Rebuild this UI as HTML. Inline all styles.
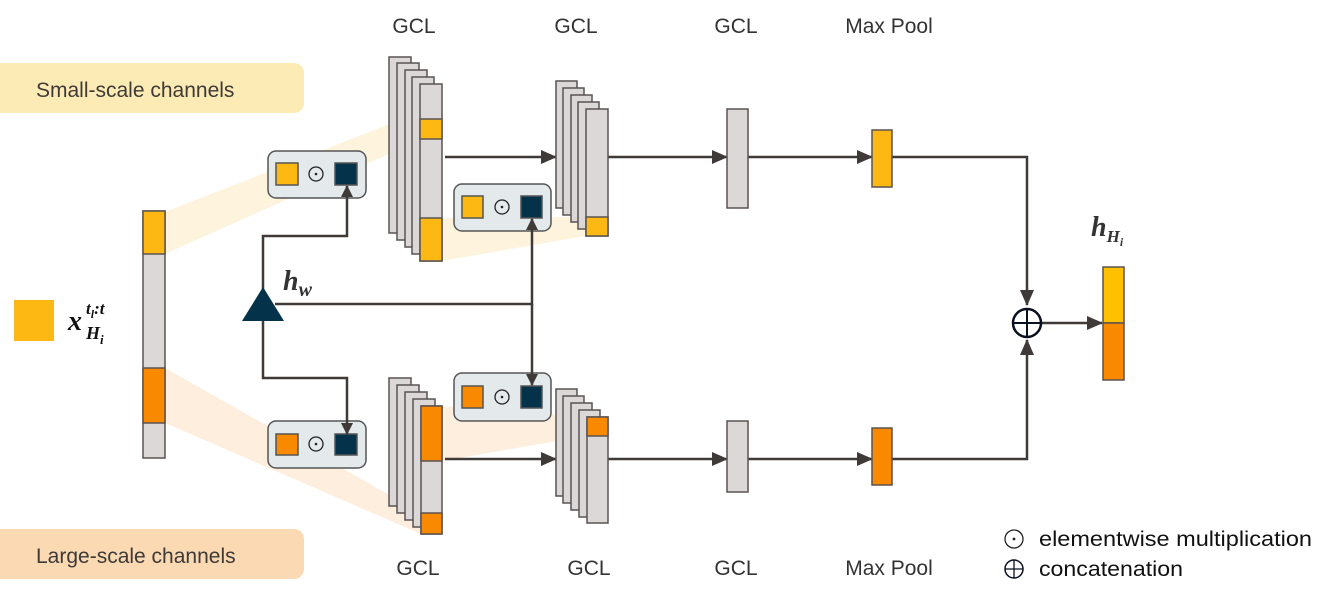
<!DOCTYPE html>
<html><head><meta charset="utf-8"><style>
html,body{margin:0;padding:0;background:#fff;}
svg{display:block;}
.s{font-family:"Liberation Sans",sans-serif;}
.m{font-family:"Liberation Serif",serif;font-weight:bold;font-style:italic;}
</style></head><body>
<svg width="1329" height="600" viewBox="0 0 1329 600" xmlns="http://www.w3.org/2000/svg">
<defs>
<marker id="ah" markerWidth="12" markerHeight="12" refX="11" refY="6" orient="auto" markerUnits="userSpaceOnUse">
<path d="M0,0 L12,6 L0,12 z" fill="#3f3a38"/>
</marker>
<marker id="ah2" markerWidth="16" markerHeight="14" refX="15" refY="7" orient="auto" markerUnits="userSpaceOnUse">
<path d="M0,0 L16,7 L0,14 z" fill="#3f3a38"/>
</marker>
</defs>
<!-- pills -->
<rect x="-10" y="63" width="314" height="50" rx="10" fill="#fdebb6"/>
<text class="s" x="36" y="97" font-size="21" fill="#3d3a38">Small-scale channels</text>
<rect x="-10" y="529" width="314" height="50" rx="10" fill="#fbd9b2"/>
<text class="s" x="36" y="563" font-size="21" fill="#3d3a38">Large-scale channels</text>

<!-- bands -->
<polygon points="165,212 420,112 420,140 165,254" fill="#fdefcf" opacity="0.7"/>
<polygon points="442,218 586,217 586,236 442,261" fill="#fdefcf" opacity="0.7"/>
<polygon points="165,368 421,513 421,534 165,423" fill="#fde3c6" opacity="0.6"/>
<polygon points="442,406 586,417 586,436 442,461" fill="#fde3c6" opacity="0.6"/>

<!-- legend square -->
<rect x="14" y="300" width="40" height="41" fill="#fdb813"/>
<text class="m" x="68" y="330" font-size="28" fill="#111">x</text>
<text class="m" x="86" y="314" font-size="17" fill="#111">t<tspan font-size="12" dy="4">l</tspan><tspan dy="-4">:t</tspan></text>
<text class="m" x="86" y="339" font-size="18" fill="#111">H<tspan font-size="13" dy="5">i</tspan></text>

<!-- input bar -->
<g stroke="#5a5252" stroke-width="1.5">
<rect x="143" y="211" width="22" height="247" fill="#dcd8d8"/>
<rect x="143" y="211" width="22" height="43" fill="#fdb813"/>
<rect x="143" y="368" width="22" height="55" fill="#f98a00"/>
</g>

<!-- mult boxes -->
<g stroke="#555" stroke-width="1.5">
<rect x="268" y="151" width="98" height="47" rx="8" fill="#e4e9ec"/>
<rect x="276" y="163" width="22" height="22" fill="#fdb813"/>
<rect x="335" y="163" width="22" height="22" fill="#04324a"/>
<rect x="454" y="184" width="97" height="47" rx="8" fill="#e4e9ec"/>
<rect x="462" y="196" width="21" height="22" fill="#fdb813"/>
<rect x="521" y="196" width="21" height="22" fill="#04324a"/>
<rect x="454" y="373" width="97" height="48" rx="8" fill="#e4e9ec"/>
<rect x="462" y="386" width="21" height="22" fill="#f98a00"/>
<rect x="521" y="386" width="21" height="22" fill="#04324a"/>
<rect x="268" y="421" width="98" height="47" rx="8" fill="#e4e9ec"/>
<rect x="276" y="434" width="22" height="21" fill="#f98a00"/>
<rect x="335" y="434" width="22" height="21" fill="#04324a"/>
</g>
<g stroke="#222" stroke-width="1.3" fill="none">
<circle cx="316" cy="174" r="7"/><circle cx="502" cy="207" r="7"/><circle cx="502" cy="397" r="7"/><circle cx="316" cy="444" r="7"/>
</g>
<g fill="#222"><circle cx="316" cy="174" r="1.3"/><circle cx="502" cy="207" r="1.3"/><circle cx="502" cy="397" r="1.3"/><circle cx="316" cy="444" r="1.3"/></g>

<!-- connectors -->
<g stroke="#3f3a38" stroke-width="2.5" fill="none">
<polyline points="263,300 263,236 347,236 347,186" marker-end="url(#ah)"/>
<polyline points="263,310 263,378 347,378 347,434" marker-end="url(#ah)"/>
<polyline points="275,304 532,304 532,219" marker-end="url(#ah)"/>
<polyline points="532,304 532,385" marker-end="url(#ah)"/>
<line x1="445" y1="157" x2="556" y2="157" marker-end="url(#ah2)"/>
<line x1="608" y1="157" x2="727" y2="157" marker-end="url(#ah2)"/>
<line x1="748" y1="157" x2="872" y2="157" marker-end="url(#ah2)"/>
<polyline points="892,157 1027,157 1027,305" marker-end="url(#ah2)"/>
<line x1="445" y1="459" x2="556" y2="459" marker-end="url(#ah2)"/>
<line x1="608" y1="459" x2="727" y2="459" marker-end="url(#ah2)"/>
<line x1="748" y1="459" x2="872" y2="459" marker-end="url(#ah2)"/>
<polyline points="892,459 1027,459 1027,340" marker-end="url(#ah2)"/>
<line x1="1041" y1="323" x2="1102" y2="323" marker-end="url(#ah2)"/>
</g>
<!-- triangle -->
<polygon points="263,287 284,321 242,321" fill="#04324a"/>
<text class="m" x="283" y="290" font-size="28" fill="#333">h<tspan font-size="20" dy="6">w</tspan></text>

<!-- stacks -->
<g stroke="#5a5252" stroke-width="1.5" fill="#dcd8d8">
<rect x="389" y="57" width="22" height="176"/>
<rect x="397" y="63" width="22" height="177"/>
<rect x="405" y="70" width="22" height="177"/>
<rect x="412" y="77" width="22" height="177"/>
<rect x="420" y="84" width="22" height="177"/>
<rect x="420" y="119" width="22" height="20" fill="#fdb813"/>
<rect x="420" y="218" width="22" height="43" fill="#fdb813"/>

<rect x="556" y="81" width="21" height="127"/>
<rect x="563" y="88" width="21" height="127"/>
<rect x="571" y="95" width="21" height="127"/>
<rect x="578" y="102" width="21" height="127"/>
<rect x="586" y="109" width="22" height="127"/>
<rect x="586" y="217" width="22" height="19" fill="#fdb813"/>

<rect x="727" y="109" width="21" height="99"/>
<rect x="872" y="130" width="20" height="57" fill="#fdb813"/>

<rect x="389" y="378" width="22" height="128"/>
<rect x="397" y="385" width="22" height="128"/>
<rect x="405" y="392" width="22" height="128"/>
<rect x="413" y="399" width="22" height="128"/>
<rect x="421" y="406" width="21" height="128"/>
<rect x="421" y="406" width="21" height="55" fill="#f98a00"/>
<rect x="421" y="513" width="21" height="21" fill="#f98a00"/>

<rect x="556" y="389" width="21" height="107"/>
<rect x="563" y="396" width="21" height="107"/>
<rect x="571" y="403" width="21" height="107"/>
<rect x="579" y="410" width="21" height="107"/>
<rect x="587" y="417" width="21" height="106"/>
<rect x="587" y="417" width="21" height="19" fill="#f98a00"/>

<rect x="727" y="421" width="21" height="71"/>
<rect x="872" y="428" width="20" height="57" fill="#f98a00"/>

<rect x="1103" y="267" width="21" height="56" fill="#ffc000"/>
<rect x="1103" y="323" width="21" height="57" fill="#f98a00"/>
</g>

<!-- band overlay on front bars -->
<polygon points="442,218 586,217 586,236 442,261" fill="#fdefcf" opacity="0.0"/>

<!-- oplus -->
<circle cx="1027" cy="323" r="14" fill="#fff" stroke="#0a1020" stroke-width="2.5"/>
<line x1="1013" y1="323" x2="1041" y2="323" stroke="#0a1020" stroke-width="2"/>
<line x1="1027" y1="309" x2="1027" y2="337" stroke="#0a1020" stroke-width="2"/>

<text class="m" x="1091" y="236" font-size="28" fill="#333">h<tspan font-size="17" dy="6">H</tspan><tspan font-size="12" dy="4">i</tspan></text>

<!-- labels -->
<g class="s" font-size="21" fill="#333" text-anchor="middle">
<text x="414" y="33">GCL</text><text x="576" y="33">GCL</text><text x="736" y="33">GCL</text><text x="889" y="33">Max Pool</text>
<text x="418" y="575">GCL</text><text x="589" y="575">GCL</text><text x="736" y="575">GCL</text><text x="889" y="575">Max Pool</text>
</g>

<!-- legend -->
<circle cx="1014" cy="539" r="9" fill="none" stroke="#222" stroke-width="1.3"/>
<circle cx="1014" cy="539" r="1.4" fill="#222"/>
<text class="s" x="1039" y="546" font-size="21" fill="#111" textLength="273" lengthAdjust="spacingAndGlyphs">elementwise multiplication</text>
<circle cx="1014" cy="569" r="9" fill="none" stroke="#0a1020" stroke-width="1.5"/>
<line x1="1005" y1="569" x2="1023" y2="569" stroke="#0a1020" stroke-width="1.3"/>
<line x1="1014" y1="560" x2="1014" y2="578" stroke="#0a1020" stroke-width="1.3"/>
<text class="s" x="1039" y="576" font-size="21" fill="#111" textLength="144" lengthAdjust="spacingAndGlyphs">concatenation</text>
</svg>
</body></html>
